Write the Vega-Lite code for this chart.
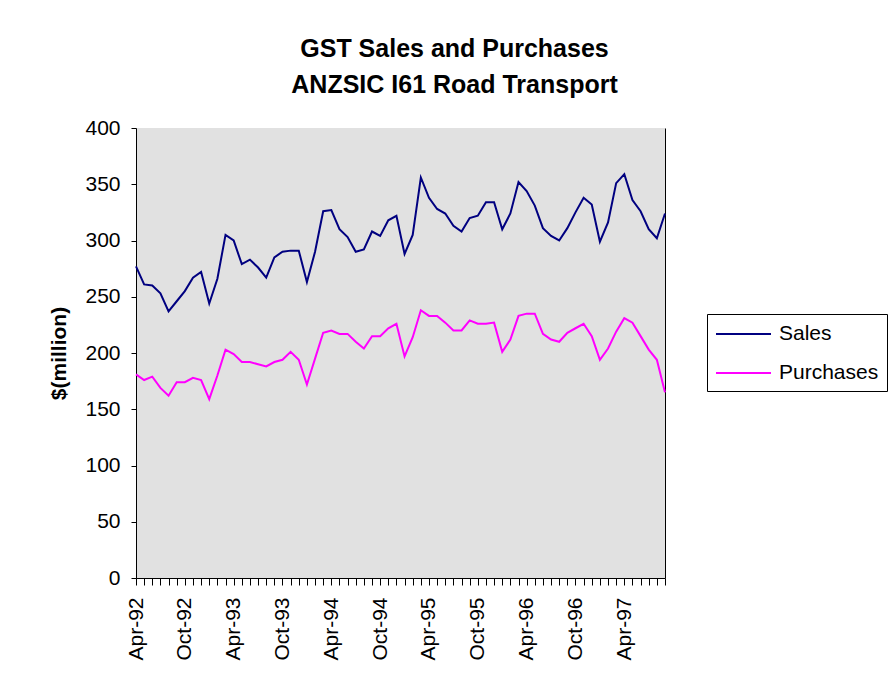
{
  "$schema": "https://vega.github.io/schema/vega-lite/v6.json",
  "autosize": "none",
  "padding": {"left": 136, "top": 128, "right": 230, "bottom": 119},
  "width": 529,
  "height": 450,
  "background": "white",
  "title": {
    "text": ["GST Sales and Purchases", "ANZSIC I61 Road Transport"],
    "font": "Liberation Sans",
    "fontSize": 25,
    "fontWeight": "bold",
    "color": "black",
    "lineHeight": 36,
    "anchor": "middle",
    "frame": "group",
    "dx": 54,
    "offset": 19
  },
  "config": {
    "view": {"fill": "#E1E1E1", "stroke": null},
    "font": "Liberation Sans",
    "axis": {
      "labelFont": "Liberation Sans",
      "labelFontSize": 21,
      "labelColor": "black",
      "titleFont": "Liberation Sans",
      "titleColor": "black",
      "domainColor": "black",
      "tickColor": "black",
      "grid": false
    }
  },
  "data": {
    "values": [
      {"month": "Apr-92", "Sales": 277, "Purchases": 181},
      {"month": "May-92", "Sales": 261, "Purchases": 176},
      {"month": "Jun-92", "Sales": 260, "Purchases": 179},
      {"month": "Jul-92", "Sales": 253, "Purchases": 169},
      {"month": "Aug-92", "Sales": 237, "Purchases": 162},
      {"month": "Sep-92", "Sales": 246, "Purchases": 174},
      {"month": "Oct-92", "Sales": 255, "Purchases": 174},
      {"month": "Nov-92", "Sales": 267, "Purchases": 178},
      {"month": "Dec-92", "Sales": 272, "Purchases": 176},
      {"month": "Jan-93", "Sales": 244, "Purchases": 159},
      {"month": "Feb-93", "Sales": 266, "Purchases": 180},
      {"month": "Mar-93", "Sales": 305, "Purchases": 203},
      {"month": "Apr-93", "Sales": 300, "Purchases": 199},
      {"month": "May-93", "Sales": 279, "Purchases": 192},
      {"month": "Jun-93", "Sales": 283, "Purchases": 192},
      {"month": "Jul-93", "Sales": 276, "Purchases": 190},
      {"month": "Aug-93", "Sales": 267, "Purchases": 188},
      {"month": "Sep-93", "Sales": 285, "Purchases": 192},
      {"month": "Oct-93", "Sales": 290, "Purchases": 194},
      {"month": "Nov-93", "Sales": 291, "Purchases": 201},
      {"month": "Dec-93", "Sales": 291, "Purchases": 194},
      {"month": "Jan-94", "Sales": 263, "Purchases": 172},
      {"month": "Feb-94", "Sales": 290, "Purchases": 195},
      {"month": "Mar-94", "Sales": 326, "Purchases": 218},
      {"month": "Apr-94", "Sales": 327, "Purchases": 220},
      {"month": "May-94", "Sales": 310, "Purchases": 217},
      {"month": "Jun-94", "Sales": 303, "Purchases": 217},
      {"month": "Jul-94", "Sales": 290, "Purchases": 210},
      {"month": "Aug-94", "Sales": 292, "Purchases": 204},
      {"month": "Sep-94", "Sales": 308, "Purchases": 215},
      {"month": "Oct-94", "Sales": 304, "Purchases": 215},
      {"month": "Nov-94", "Sales": 318, "Purchases": 222},
      {"month": "Dec-94", "Sales": 322, "Purchases": 226},
      {"month": "Jan-95", "Sales": 288, "Purchases": 197},
      {"month": "Feb-95", "Sales": 305, "Purchases": 214},
      {"month": "Mar-95", "Sales": 356, "Purchases": 238},
      {"month": "Apr-95", "Sales": 338, "Purchases": 233},
      {"month": "May-95", "Sales": 328, "Purchases": 233},
      {"month": "Jun-95", "Sales": 324, "Purchases": 227},
      {"month": "Jul-95", "Sales": 313, "Purchases": 220},
      {"month": "Aug-95", "Sales": 308, "Purchases": 220},
      {"month": "Sep-95", "Sales": 320, "Purchases": 229},
      {"month": "Oct-95", "Sales": 322, "Purchases": 226},
      {"month": "Nov-95", "Sales": 334, "Purchases": 226},
      {"month": "Dec-95", "Sales": 334, "Purchases": 227},
      {"month": "Jan-96", "Sales": 310, "Purchases": 201},
      {"month": "Feb-96", "Sales": 324, "Purchases": 212},
      {"month": "Mar-96", "Sales": 352, "Purchases": 233},
      {"month": "Apr-96", "Sales": 344, "Purchases": 235},
      {"month": "May-96", "Sales": 331, "Purchases": 235},
      {"month": "Jun-96", "Sales": 311, "Purchases": 217},
      {"month": "Jul-96", "Sales": 304, "Purchases": 212},
      {"month": "Aug-96", "Sales": 300, "Purchases": 210},
      {"month": "Sep-96", "Sales": 311, "Purchases": 218},
      {"month": "Oct-96", "Sales": 325, "Purchases": 222},
      {"month": "Nov-96", "Sales": 338, "Purchases": 226},
      {"month": "Dec-96", "Sales": 332, "Purchases": 215},
      {"month": "Jan-97", "Sales": 299, "Purchases": 194},
      {"month": "Feb-97", "Sales": 316, "Purchases": 204},
      {"month": "Mar-97", "Sales": 351, "Purchases": 219},
      {"month": "Apr-97", "Sales": 359, "Purchases": 231},
      {"month": "May-97", "Sales": 336, "Purchases": 227},
      {"month": "Jun-97", "Sales": 326, "Purchases": 215},
      {"month": "Jul-97", "Sales": 310, "Purchases": 203},
      {"month": "Aug-97", "Sales": 302, "Purchases": 194},
      {"month": "Sep-97", "Sales": 324, "Purchases": 165}
    ]
  },
  "transform": [{"fold": ["Sales", "Purchases"], "as": ["series", "value"]}],
  "layer": [
    {
      "mark": {"type": "line", "strokeWidth": 2},
      "encoding": {
        "x": {
          "field": "month",
          "type": "ordinal",
          "sort": null,
          "scale": {"type": "point", "padding": 0},
          "axis": {
            "title": null,
            "labelAngle": -90,
            "labelOverlap": false,
            "labelPadding": 12,
            "tickSize": 7,
            "labelExpr": "slice(datum.label,0,3)=='Apr'||slice(datum.label,0,3)=='Oct' ? datum.label : ''"
          }
        },
        "y": {
          "field": "value",
          "type": "quantitative",
          "scale": {"domain": [0, 400], "nice": false},
          "axis": {
            "values": [0, 50, 100, 150, 200, 250, 300, 350, 400],
            "tickSize": 5,
            "labelPadding": 11,
            "title": "$(million)",
            "titleFontSize": 21,
            "titleFontWeight": "bold",
            "titlePadding": 15
          }
        },
        "color": {
          "field": "series",
          "type": "nominal",
          "scale": {"domain": ["Sales", "Purchases"], "range": ["#000080", "#FF00FF"]},
          "legend": {
            "title": null,
            "orient": "none",
            "legendX": 571,
            "legendY": 186,
            "padding": 8,
            "strokeColor": "black",
            "fillColor": "white",
            "symbolType": "M-2.5,0H2.5",
            "symbolSize": 484,
            "symbolStrokeWidth": 2,
            "symbolOffset": 16.5,
            "labelOffset": 23.5,
            "labelFont": "Liberation Sans",
            "labelFontSize": 21,
            "labelColor": "black",
            "rowPadding": 17
          }
        }
      }
    },
    {
      "mark": {"type": "line", "strokeOpacity": 0},
      "encoding": {
        "x": {"field": "month", "type": "ordinal", "sort": null},
        "y": {
          "field": "value",
          "type": "quantitative",
          "axis": {"orient": "right", "labels": false, "ticks": false, "title": null, "domainColor": "black"}
        },
        "detail": {"field": "series"}
      }
    }
  ],
  "resolve": {"axis": {"y": "independent"}}
}
